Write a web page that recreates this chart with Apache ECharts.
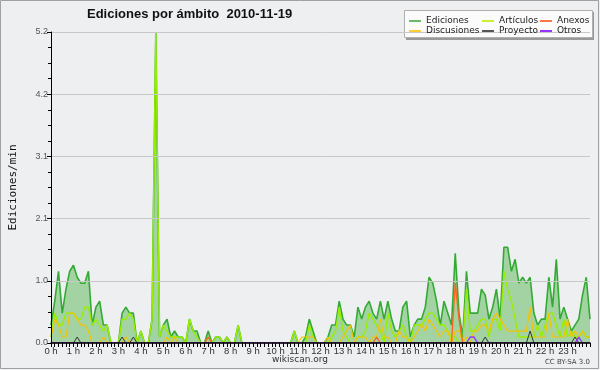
<!DOCTYPE html>
<html><head><meta charset="utf-8">
<script src="https://cdn.jsdelivr.net/npm/echarts@6/dist/echarts.min.js"></script>
<style>html,body{margin:0;padding:0;background:#eeeff0}#c{width:600px;height:370px}</style>
</head><body><div id="c"></div>
<script>
// 10-minute slots, 0h00 .. 24h00
const slotMinutes = Array.from({length:145},(_,i)=>i*10);
const hourTicks = ['0 h','1 h','2 h','3 h','4 h','5 h','6 h','7 h','8 h','9 h','10 h','11 h','12 h','13 h','14 h','15 h','16 h','17 h','18 h','19 h','20 h','21 h','22 h','23 h'];
const yTicks = ['0.0','1.0','2.1','3.1','4.2','5.2'];

const ediciones = [
 0.3,0.7,1.2,0.5,0.9,1.2,1.3,1.1,1.0,1.0, 1.2,0.3,0.6,0.7,0.3,0.3,0,0,0,0.5,
 0.6,0.5,0.5,0,0.2,0,0,0.4,5.2,0.1, 0.3,0.4,0.1,0.2,0.1,0.1,0,0.4,0.2,0.2,
 0,0,0.2,0,0.1,0.1,0,0.1,0,0, 0.3,0,0,0,0,0,0,0,0,0, 0,0,0,0,0,0.2,0,0,0.1,0.4,
 0.2,0,0,0,0.1,0.3,0.3,0.7,0.4,0.3, 0.3,0.1,0.6,0.4,0.6,0.7,0.5,0.4,0.7,0.4,
 0.7,0.4,0.2,0.2,0.6,0.7,0.1,0.3,0.4,0.4, 0.6,1.1,1.0,0.7,0.3,0.7,0.5,0.3,1.5,0.5,
 0.1,1.2,0.5,0.5,0.5,0.9,0.8,0.4,0.6,0.9, 0.4,1.6,1.6,1.2,1.4,1.0,1.1,1.0,1.1,0.5,
 0.3,0.4,0.4,1.1,0.6,1.4,0.4,0.6,0.4,0.2, 0.3,0.4,0.8,1.1,0.4];
const articulos = [
 0.1,0.5,0.3,0.3,0.5,0.5,0.5,0.4,0.4,0.6, 0.6,0.3,0.4,0.3,0.2,0.3,0,0,0,0.4,
 0.4,0.5,0.4,0,0.2,0,0,0.4,5.2,0.1, 0.3,0.2,0.1,0.1,0.1,0.1,0,0.4,0.2,0.1,
 0,0,0.1,0,0.1,0.1,0,0.1,0,0, 0.3,0,0,0,0,0,0,0,0,0, 0,0,0,0,0,0.2,0,0,0,0.3,
 0.1,0,0,0,0,0.1,0.2,0.6,0.2,0.1, 0,0,0.1,0.1,0.2,0.5,0.4,0.3,0.2,0,
 0.5,0.2,0.1,0.2,0.3,0.1,0,0.3,0.3,0.3, 0.4,0.5,0.5,0.4,0.3,0.3,0.2,0.1,0.1,0,
 0,0.9,0.2,0.2,0.3,0.4,0.4,0.1,0.4,0.4, 0.2,1.2,0.9,0.7,0.4,0.1,0.1,0.1,0.1,0.1,
 0.3,0.1,0.3,0.5,0.5,0.3,0.1,0.4,0.1,0.2, 0.1,0.1,0.2,0.1,0.1];
const discusiones = [
 0.1,0.4,0.3,0.1,0.1,0.5,0.5,0.4,0.3,0.3, 0.2,0,0,0,0.1,0,0,0,0,0,
 0.1,0,0,0,0,0,0,0,0,0, 0,0.1,0,0.1,0,0,0,0,0,0,
 0,0,0,0,0,0,0,0,0,0, 0,0,0,0,0,0,0,0,0,0, 0,0,0,0,0,0,0,0.1,0.1,0.1,
 0.1,0,0,0,0.1,0,0,0,0.1,0.2, 0.3,0,0.1,0.1,0.1,0,0.1,0.1,0.4,0.1,
 0.1,0,0,0.2,0.1,0.1,0,0.1,0.2,0.3, 0.2,0.4,0.3,0.2,0.1,0.2,0.2,0,0.2,0.2,
 0,0.1,0,0.2,0.2,0.3,0.3,0.2,0.4,0.5, 0.4,0.3,0.2,0.2,0.2,0.2,0.2,0.2,0.6,0.1,
 0.1,0.1,0.1,0.5,0.1,0.1,0.1,0.1,0.4,0.1, 0.2,0.1,0.2,0.1,0.1];
const anexos = [
 0,0,0,0,0,0,0,0,0,0, 0,0,0,0,0,0,0,0,0,0, 0,0,0,0,0,0,0,0,0,0, 0,0,0,0,0,0,0,0,0,0,
 0,0,0.1,0,0,0,0,0,0,0, 0,0,0,0,0,0,0,0,0,0, 0,0,0,0,0,0,0,0,0,0, 0,0,0,0,0,0,0,0,0,0,
 0,0,0,0,0,0,0,0.1,0,0, 0,0,0,0,0,0,0,0,0,0, 0,0,0,0,0,0,0,0,1.0,0.4,
 0,0,0,0,0,0,0,0,0,0, 0,0,0,0,0,0,0,0,0,0, 0,0,0,0,0,0,0,0,0,0, 0,0,0,0,0];
const proyecto = [
 0,0,0,0,0,0,0,0.1,0,0, 0,0,0,0,0,0,0,0,0,0.1, 0,0,0.1,0,0,0,0,0,0,0, 0,0,0,0,0,0,0,0,0,0,
 0,0,0,0,0,0,0,0,0,0, 0,0,0,0,0,0,0,0,0,0, 0,0,0,0,0,0,0,0,0,0, 0,0,0,0,0,0,0,0,0,0,
 0,0,0,0,0,0,0,0,0,0, 0,0,0,0,0,0,0,0,0,0, 0,0,0,0,0,0,0,0,0,0,
 0,0,0,0,0,0,0.1,0,0,0, 0,0,0,0,0,0,0,0,0.2,0, 0,0,0,0,0,0,0,0,0,0, 0.1,0,0,0,0];
const otros = [
 0,0,0,0,0,0,0,0,0,0, 0,0,0,0,0,0,0,0,0,0, 0,0,0,0,0,0,0,0,0,0, 0,0,0,0,0,0,0,0,0,0,
 0,0,0,0,0,0,0,0,0,0, 0,0,0,0,0,0,0,0,0,0, 0,0,0,0,0,0,0,0,0,0, 0,0,0,0,0,0,0,0,0,0,
 0,0,0,0,0,0,0,0,0,0, 0,0,0,0,0,0,0,0,0,0, 0,0,0,0,0,0,0,0,0,0,
 0,0,0.1,0.1,0,0,0,0,0,0, 0,0,0,0,0,0,0,0,0,0, 0,0,0,0,0,0,0,0,0,0, 0,0.1,0,0,0];

const pairs = arr => slotMinutes.map((t,i)=>[t, arr[i]]);
const chart = echarts.init(document.getElementById('c'), null, {renderer:'canvas'});
const lineS = (name, data, color, width, z, extra) => Object.assign({
  name, type:'line', data:pairs(data), showSymbol:false, symbol:'none', z,
  lineStyle:{color, width}, itemStyle:{color}, animation:false
}, extra||{});

const legendText = {fontFamily:'DejaVu Sans', fontSize:9, color:'#222', lineHeight:10};
const legendBase = {orient:'vertical', itemWidth:12, itemHeight:2, itemGap:0, icon:'rect', textStyle:legendText, selectedMode:false, padding:0, itemStyle:{borderWidth:0}};

chart.setOption({
  backgroundColor:'#eeeff0',
  animation:false,
  title:{text:'Ediciones por ámbito  2010-11-19', left:82, top:3,
    textStyle:{fontFamily:'Liberation Sans', fontSize:13, fontWeight:'bold', color:'#111'}},
  graphic:[
    {type:'rect', shape:{x:0.5,y:0.5,width:598,height:368}, style:{fill:'none', stroke:'#a0a0a0', lineWidth:1}, z:-1},
    {type:'rect', shape:{x:406,y:12,width:188,height:28}, style:{fill:'#999'}, z:0},
    {type:'rect', shape:{x:404.5,y:10.5,width:188,height:27}, style:{fill:'#fbfbfb', stroke:'#b0b0b0', lineWidth:1}, z:1},
    {type:'text', left:'center', top:355, style:{text:'wikiscan.org', fontFamily:'DejaVu Sans', fontSize:9, fill:'#333'}, z:5},
    {type:'text', right:10, top:359, style:{text:'CC BY-SA 3.0', fontFamily:'DejaVu Sans', fontSize:7, fill:'#444'}, z:5}
  ],
  legend:[
    Object.assign({}, legendBase, {left:409, top:16, z:10, data:[{name:'Ediciones', itemStyle:{color:'#66bb66'}},{name:'Discusiones', itemStyle:{color:'#ffcc33'}}]}),
    Object.assign({}, legendBase, {left:482, top:16, z:10, data:[{name:'Artículos', itemStyle:{color:'#ccf033'}},{name:'Proyecto', itemStyle:{color:'#555'}}]}),
    Object.assign({}, legendBase, {left:540, top:16, z:10, data:[{name:'Anexos', itemStyle:{color:'#ff7744'}},{name:'Otros', itemStyle:{color:'#9933ff'}}]})
  ],
  grid:{left:44, right:10, top:32, bottom:27, containLabel:false},
  xAxis:{type:'value', min:0, max:1440, interval:60, z:10,
    axisLine:{lineStyle:{color:'#000', width:1.5}},
    axisTick:{show:true, length:4, lineStyle:{color:'#000'}},
    minorTick:{show:true, splitNumber:6, length:4, lineStyle:{color:'#000'}},
    splitLine:{show:false},
    axisLabel:{formatter:v => (v<1440 ? hourTicks[v/60] : ''), fontFamily:'Liberation Sans', fontSize:9.5, color:'#333', margin:3, showMaxLabel:false}
  },
  yAxis:{type:'value', min:0, max:5.2, interval:1.04, z:10,
    name:'Ediciones/min', nameLocation:'middle', nameGap:32, nameRotate:90,
    nameTextStyle:{fontFamily:'DejaVu Sans Mono', fontSize:11, color:'#111'},
    axisLine:{show:true, lineStyle:{color:'#000', width:1}},
    axisTick:{show:true, length:4, lineStyle:{color:'#000'}},
    minorTick:{show:true, splitNumber:4, length:3, lineStyle:{color:'#000'}},
    splitLine:{show:true, lineStyle:{color:'#c8c8c8', width:1}},
    axisLabel:{formatter:(v)=>yTicks[Math.round(v/1.04)], fontFamily:'Liberation Sans', fontSize:9, color:'#555', margin:3}
  },
  series:[
    lineS('Ediciones', ediciones, '#33aa33', 1.6, 2, {areaStyle:{color:'#a3d3a3', opacity:1}}),
    lineS('Artículos', articulos, '#99ee00', 1.4, 3),
    lineS('Anexos', anexos, '#ff6622', 1.4, 4),
    lineS('Discusiones', discusiones, '#f5c400', 1.2, 3),
    lineS('Proyecto', proyecto, '#333333', 1, 4),
    lineS('Otros', otros, '#9933ff', 1.4, 4)
  ]
});
</script></body></html>
